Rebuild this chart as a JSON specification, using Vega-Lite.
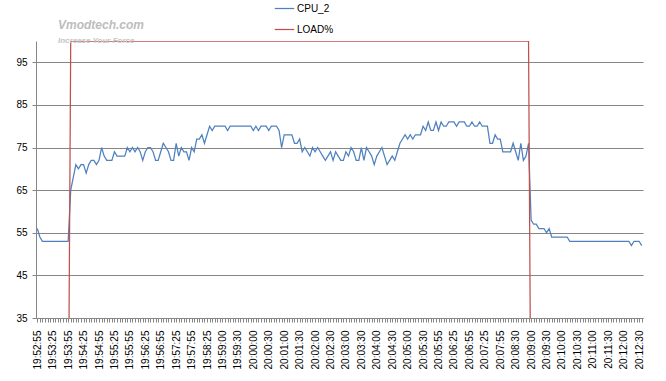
{
"$schema": "https://vega.github.io/schema/vega-lite/v6.json",
"width": 607, "height": 277,
"autosize": "none",
"padding": {"left": 36, "top": 41, "right": 23, "bottom": 63},
"background": "white",
"config": {"view": {"stroke": null}, "font": "Liberation Sans"},
"title": {"text": "Vmodtech.com", "subtitle": "Increase Your Force", "anchor": "start", "frame": "group", "offset": 0, "dx": 22, "dy": 48, "color": "#bdbdbd", "fontSize": 12, "fontStyle": "italic", "fontWeight": "bold", "subtitleColor": "#c4c4c4", "subtitleFontSize": 8, "subtitleFontStyle": "italic", "subtitleFontWeight": "bold", "subtitlePadding": 5},
"data": {"values": [
{"t":"19:52:55","CPU_2":56,"LOAD%":0},{"t":"19:53:00","CPU_2":54,"LOAD%":0},{"t":"19:53:05","CPU_2":53,"LOAD%":0},{"t":"19:53:10","CPU_2":53,"LOAD%":0},{"t":"19:53:15","CPU_2":53,"LOAD%":0},{"t":"19:53:20","CPU_2":53,"LOAD%":0},
{"t":"19:53:25","CPU_2":53,"LOAD%":0},{"t":"19:53:30","CPU_2":53,"LOAD%":0},{"t":"19:53:35","CPU_2":53,"LOAD%":0},{"t":"19:53:40","CPU_2":53,"LOAD%":0},{"t":"19:53:45","CPU_2":53,"LOAD%":0},{"t":"19:53:50","CPU_2":53,"LOAD%":0},
{"t":"19:53:55","CPU_2":53,"LOAD%":0},{"t":"19:54:00","CPU_2":65,"LOAD%":100},{"t":"19:54:05","CPU_2":68,"LOAD%":100},{"t":"19:54:10","CPU_2":71,"LOAD%":100},{"t":"19:54:15","CPU_2":70,"LOAD%":100},{"t":"19:54:20","CPU_2":71,"LOAD%":100},
{"t":"19:54:25","CPU_2":71,"LOAD%":100},{"t":"19:54:30","CPU_2":69,"LOAD%":100},{"t":"19:54:35","CPU_2":71,"LOAD%":100},{"t":"19:54:40","CPU_2":72,"LOAD%":100},{"t":"19:54:45","CPU_2":72,"LOAD%":100},{"t":"19:54:50","CPU_2":71,"LOAD%":100},
{"t":"19:54:55","CPU_2":72,"LOAD%":100},{"t":"19:55:00","CPU_2":75,"LOAD%":100},{"t":"19:55:05","CPU_2":73,"LOAD%":100},{"t":"19:55:10","CPU_2":72,"LOAD%":100},{"t":"19:55:15","CPU_2":72,"LOAD%":100},{"t":"19:55:20","CPU_2":72,"LOAD%":100},
{"t":"19:55:25","CPU_2":74,"LOAD%":100},{"t":"19:55:30","CPU_2":73,"LOAD%":100},{"t":"19:55:35","CPU_2":73,"LOAD%":100},{"t":"19:55:40","CPU_2":73,"LOAD%":100},{"t":"19:55:45","CPU_2":73,"LOAD%":100},{"t":"19:55:50","CPU_2":75,"LOAD%":100},
{"t":"19:55:55","CPU_2":74,"LOAD%":100},{"t":"19:56:00","CPU_2":75,"LOAD%":100},{"t":"19:56:05","CPU_2":74,"LOAD%":100},{"t":"19:56:10","CPU_2":75,"LOAD%":100},{"t":"19:56:15","CPU_2":74,"LOAD%":100},{"t":"19:56:20","CPU_2":72,"LOAD%":100},
{"t":"19:56:25","CPU_2":74,"LOAD%":100},{"t":"19:56:30","CPU_2":75,"LOAD%":100},{"t":"19:56:35","CPU_2":75,"LOAD%":100},{"t":"19:56:40","CPU_2":74,"LOAD%":100},{"t":"19:56:45","CPU_2":72,"LOAD%":100},{"t":"19:56:50","CPU_2":72,"LOAD%":100},
{"t":"19:56:55","CPU_2":74,"LOAD%":100},{"t":"19:57:00","CPU_2":76,"LOAD%":100},{"t":"19:57:05","CPU_2":75,"LOAD%":100},{"t":"19:57:10","CPU_2":74,"LOAD%":100},{"t":"19:57:15","CPU_2":72,"LOAD%":100},{"t":"19:57:20","CPU_2":72,"LOAD%":100},
{"t":"19:57:25","CPU_2":76,"LOAD%":100},{"t":"19:57:30","CPU_2":73,"LOAD%":100},{"t":"19:57:35","CPU_2":75,"LOAD%":100},{"t":"19:57:40","CPU_2":74,"LOAD%":100},{"t":"19:57:45","CPU_2":74,"LOAD%":100},{"t":"19:57:50","CPU_2":72,"LOAD%":100},
{"t":"19:57:55","CPU_2":75,"LOAD%":100},{"t":"19:58:00","CPU_2":74,"LOAD%":100},{"t":"19:58:05","CPU_2":77,"LOAD%":100},{"t":"19:58:10","CPU_2":77,"LOAD%":100},{"t":"19:58:15","CPU_2":78,"LOAD%":100},{"t":"19:58:20","CPU_2":76,"LOAD%":100},
{"t":"19:58:25","CPU_2":78,"LOAD%":100},{"t":"19:58:30","CPU_2":80,"LOAD%":100},{"t":"19:58:35","CPU_2":79,"LOAD%":100},{"t":"19:58:40","CPU_2":80,"LOAD%":100},{"t":"19:58:45","CPU_2":80,"LOAD%":100},{"t":"19:58:55","CPU_2":80,"LOAD%":100},
{"t":"19:59:00","CPU_2":80,"LOAD%":100},{"t":"19:59:05","CPU_2":80,"LOAD%":100},{"t":"19:59:10","CPU_2":79,"LOAD%":100},{"t":"19:59:15","CPU_2":80,"LOAD%":100},{"t":"19:59:20","CPU_2":80,"LOAD%":100},{"t":"19:59:25","CPU_2":80,"LOAD%":100},
{"t":"19:59:30","CPU_2":80,"LOAD%":100},{"t":"19:59:35","CPU_2":80,"LOAD%":100},{"t":"19:59:40","CPU_2":80,"LOAD%":100},{"t":"19:59:45","CPU_2":80,"LOAD%":100},{"t":"19:59:50","CPU_2":80,"LOAD%":100},{"t":"19:59:55","CPU_2":80,"LOAD%":100},
{"t":"20:00:00","CPU_2":79,"LOAD%":100},{"t":"20:00:05","CPU_2":80,"LOAD%":100},{"t":"20:00:10","CPU_2":79,"LOAD%":100},{"t":"20:00:15","CPU_2":80,"LOAD%":100},{"t":"20:00:20","CPU_2":80,"LOAD%":100},{"t":"20:00:25","CPU_2":80,"LOAD%":100},
{"t":"20:00:30","CPU_2":79,"LOAD%":100},{"t":"20:00:35","CPU_2":80,"LOAD%":100},{"t":"20:00:40","CPU_2":80,"LOAD%":100},{"t":"20:00:45","CPU_2":80,"LOAD%":100},{"t":"20:00:50","CPU_2":79,"LOAD%":100},{"t":"20:00:55","CPU_2":75,"LOAD%":100},
{"t":"20:01:00","CPU_2":78,"LOAD%":100},{"t":"20:01:05","CPU_2":78,"LOAD%":100},{"t":"20:01:10","CPU_2":78,"LOAD%":100},{"t":"20:01:15","CPU_2":78,"LOAD%":100},{"t":"20:01:20","CPU_2":76,"LOAD%":100},{"t":"20:01:25","CPU_2":76,"LOAD%":100},
{"t":"20:01:30","CPU_2":77,"LOAD%":100},{"t":"20:01:35","CPU_2":74,"LOAD%":100},{"t":"20:01:40","CPU_2":75,"LOAD%":100},{"t":"20:01:45","CPU_2":74,"LOAD%":100},{"t":"20:01:50","CPU_2":73,"LOAD%":100},{"t":"20:01:55","CPU_2":75,"LOAD%":100},
{"t":"20:02:00","CPU_2":74,"LOAD%":100},{"t":"20:02:05","CPU_2":75,"LOAD%":100},{"t":"20:02:10","CPU_2":74,"LOAD%":100},{"t":"20:02:15","CPU_2":73,"LOAD%":100},{"t":"20:02:20","CPU_2":72,"LOAD%":100},{"t":"20:02:25","CPU_2":73,"LOAD%":100},
{"t":"20:02:30","CPU_2":74,"LOAD%":100},{"t":"20:02:35","CPU_2":72,"LOAD%":100},{"t":"20:02:40","CPU_2":74,"LOAD%":100},{"t":"20:02:45","CPU_2":73,"LOAD%":100},{"t":"20:02:50","CPU_2":72,"LOAD%":100},{"t":"20:02:55","CPU_2":72,"LOAD%":100},
{"t":"20:03:00","CPU_2":74,"LOAD%":100},{"t":"20:03:05","CPU_2":73,"LOAD%":100},{"t":"20:03:10","CPU_2":75,"LOAD%":100},{"t":"20:03:15","CPU_2":74,"LOAD%":100},{"t":"20:03:20","CPU_2":72,"LOAD%":100},{"t":"20:03:25","CPU_2":72,"LOAD%":100},
{"t":"20:03:30","CPU_2":75,"LOAD%":100},{"t":"20:03:35","CPU_2":72,"LOAD%":100},{"t":"20:03:40","CPU_2":75,"LOAD%":100},{"t":"20:03:45","CPU_2":74,"LOAD%":100},{"t":"20:03:50","CPU_2":73,"LOAD%":100},{"t":"20:03:55","CPU_2":71,"LOAD%":100},
{"t":"20:04:00","CPU_2":73,"LOAD%":100},{"t":"20:04:05","CPU_2":74,"LOAD%":100},{"t":"20:04:10","CPU_2":75,"LOAD%":100},{"t":"20:04:15","CPU_2":73,"LOAD%":100},{"t":"20:04:20","CPU_2":71,"LOAD%":100},{"t":"20:04:25","CPU_2":72,"LOAD%":100},
{"t":"20:04:30","CPU_2":73,"LOAD%":100},{"t":"20:04:35","CPU_2":72,"LOAD%":100},{"t":"20:04:40","CPU_2":74,"LOAD%":100},{"t":"20:04:45","CPU_2":76,"LOAD%":100},{"t":"20:04:50","CPU_2":77,"LOAD%":100},{"t":"20:04:55","CPU_2":78,"LOAD%":100},
{"t":"20:05:00","CPU_2":77,"LOAD%":100},{"t":"20:05:05","CPU_2":78,"LOAD%":100},{"t":"20:05:10","CPU_2":77,"LOAD%":100},{"t":"20:05:15","CPU_2":78,"LOAD%":100},{"t":"20:05:20","CPU_2":78,"LOAD%":100},{"t":"20:05:25","CPU_2":78,"LOAD%":100},
{"t":"20:05:30","CPU_2":80,"LOAD%":100},{"t":"20:05:34","CPU_2":79,"LOAD%":100},{"t":"20:05:38","CPU_2":81,"LOAD%":100},{"t":"20:05:42","CPU_2":79,"LOAD%":100},{"t":"20:05:47","CPU_2":79,"LOAD%":100},{"t":"20:05:51","CPU_2":81,"LOAD%":100},
{"t":"20:05:55","CPU_2":79,"LOAD%":100},{"t":"20:06:00","CPU_2":81,"LOAD%":100},{"t":"20:06:05","CPU_2":80,"LOAD%":100},{"t":"20:06:10","CPU_2":80,"LOAD%":100},{"t":"20:06:15","CPU_2":81,"LOAD%":100},{"t":"20:06:20","CPU_2":81,"LOAD%":100},
{"t":"20:06:25","CPU_2":81,"LOAD%":100},{"t":"20:06:30","CPU_2":80,"LOAD%":100},{"t":"20:06:35","CPU_2":81,"LOAD%":100},{"t":"20:06:40","CPU_2":81,"LOAD%":100},{"t":"20:06:45","CPU_2":81,"LOAD%":100},{"t":"20:06:50","CPU_2":80,"LOAD%":100},
{"t":"20:06:55","CPU_2":80,"LOAD%":100},{"t":"20:07:00","CPU_2":81,"LOAD%":100},{"t":"20:07:05","CPU_2":80,"LOAD%":100},{"t":"20:07:10","CPU_2":80,"LOAD%":100},{"t":"20:07:15","CPU_2":81,"LOAD%":100},{"t":"20:07:20","CPU_2":80,"LOAD%":100},
{"t":"20:07:25","CPU_2":80,"LOAD%":100},{"t":"20:07:30","CPU_2":80,"LOAD%":100},{"t":"20:07:35","CPU_2":76,"LOAD%":100},{"t":"20:07:40","CPU_2":76,"LOAD%":100},{"t":"20:07:45","CPU_2":78,"LOAD%":100},{"t":"20:07:50","CPU_2":77,"LOAD%":100},
{"t":"20:07:55","CPU_2":77,"LOAD%":100},{"t":"20:08:00","CPU_2":74,"LOAD%":100},{"t":"20:08:05","CPU_2":74,"LOAD%":100},{"t":"20:08:10","CPU_2":74,"LOAD%":100},{"t":"20:08:15","CPU_2":74,"LOAD%":100},{"t":"20:08:20","CPU_2":76,"LOAD%":100},
{"t":"20:08:30","CPU_2":74,"LOAD%":100},{"t":"20:08:35","CPU_2":72,"LOAD%":100},{"t":"20:08:40","CPU_2":76,"LOAD%":100},{"t":"20:08:45","CPU_2":72,"LOAD%":100},{"t":"20:08:50","CPU_2":73,"LOAD%":100},{"t":"20:08:55","CPU_2":76,"LOAD%":100},
{"t":"20:09:00","CPU_2":58,"LOAD%":0},{"t":"20:09:05","CPU_2":57,"LOAD%":0},{"t":"20:09:10","CPU_2":57,"LOAD%":0},{"t":"20:09:15","CPU_2":56,"LOAD%":0},{"t":"20:09:20","CPU_2":56,"LOAD%":0},{"t":"20:09:25","CPU_2":56,"LOAD%":0},
{"t":"20:09:30","CPU_2":55,"LOAD%":0},{"t":"20:09:35","CPU_2":56,"LOAD%":0},{"t":"20:09:40","CPU_2":54,"LOAD%":0},{"t":"20:09:45","CPU_2":54,"LOAD%":0},{"t":"20:09:50","CPU_2":54,"LOAD%":0},{"t":"20:09:55","CPU_2":54,"LOAD%":0},
{"t":"20:10:00","CPU_2":54,"LOAD%":0},{"t":"20:10:05","CPU_2":54,"LOAD%":0},{"t":"20:10:10","CPU_2":54,"LOAD%":0},{"t":"20:10:15","CPU_2":53,"LOAD%":0},{"t":"20:10:20","CPU_2":53,"LOAD%":0},{"t":"20:10:25","CPU_2":53,"LOAD%":0},
{"t":"20:10:30","CPU_2":53,"LOAD%":0},{"t":"20:10:35","CPU_2":53,"LOAD%":0},{"t":"20:10:40","CPU_2":53,"LOAD%":0},{"t":"20:10:45","CPU_2":53,"LOAD%":0},{"t":"20:10:50","CPU_2":53,"LOAD%":0},{"t":"20:10:55","CPU_2":53,"LOAD%":0},
{"t":"20:11:00","CPU_2":53,"LOAD%":0},{"t":"20:11:05","CPU_2":53,"LOAD%":0},{"t":"20:11:10","CPU_2":53,"LOAD%":0},{"t":"20:11:15","CPU_2":53,"LOAD%":0},{"t":"20:11:20","CPU_2":53,"LOAD%":0},{"t":"20:11:25","CPU_2":53,"LOAD%":0},
{"t":"20:11:30","CPU_2":53,"LOAD%":0},{"t":"20:11:35","CPU_2":53,"LOAD%":0},{"t":"20:11:40","CPU_2":53,"LOAD%":0},{"t":"20:11:45","CPU_2":53,"LOAD%":0},{"t":"20:11:50","CPU_2":53,"LOAD%":0},{"t":"20:11:55","CPU_2":53,"LOAD%":0},
{"t":"20:12:00","CPU_2":53,"LOAD%":0},{"t":"20:12:05","CPU_2":53,"LOAD%":0},{"t":"20:12:10","CPU_2":53,"LOAD%":0},{"t":"20:12:15","CPU_2":52,"LOAD%":0},{"t":"20:12:20","CPU_2":53,"LOAD%":0},{"t":"20:12:25","CPU_2":53,"LOAD%":0},
{"t":"20:12:30","CPU_2":53,"LOAD%":0},{"t":"20:12:35","CPU_2":52,"LOAD%":0}
]},
"transform": [{"fold": ["CPU_2", "LOAD%"], "as": ["series", "value"]}],
"mark": {"type": "line", "clip": true, "strokeWidth": 1.25},
"encoding": {
  "x": {"field": "t", "type": "ordinal", "sort": null, "scale": {"type": "point", "padding": 0.5},
    "axis": {"title": null, "labelAngle": 270, "labelExpr": "indexof(domain('x'), datum.value) % 6 === 0 ? datum.value : ''", "labelOverlap": false, "labelFont": "Liberation Sans", "labelFontSize": 10, "labelColor": "#000000", "labelPadding": 8, "tickSize": 4, "tickColor": "#868686", "domainColor": "#868686", "grid": false}},
  "y": {"field": "value", "type": "quantitative", "scale": {"domain": [35, 100], "nice": false, "zero": false},
    "axis": {"title": null, "values": [35, 45, 55, 65, 75, 85, 95], "grid": true, "gridColor": "#868686", "gridOpacity": 1, "domainColor": "#868686", "tickColor": "#868686", "tickSize": 4, "labelFont": "Liberation Sans", "labelFontSize": 10, "labelPadding": 5, "labelColor": "#000000"}},
  "color": {"field": "series", "type": "nominal", "scale": {"domain": ["CPU_2", "LOAD%"], "range": ["#4F81BD", "#C0504D"]},
    "legend": {"title": null, "orient": "none", "legendX": 238, "legendY": -43, "direction": "vertical", "symbolType": "stroke", "symbolSize": 380, "symbolStrokeWidth": 1.25, "labelFont": "Liberation Sans", "labelFontSize": 10, "labelOffset": 2, "rowPadding": 5, "labelColor": "#000000"}}
}
}
